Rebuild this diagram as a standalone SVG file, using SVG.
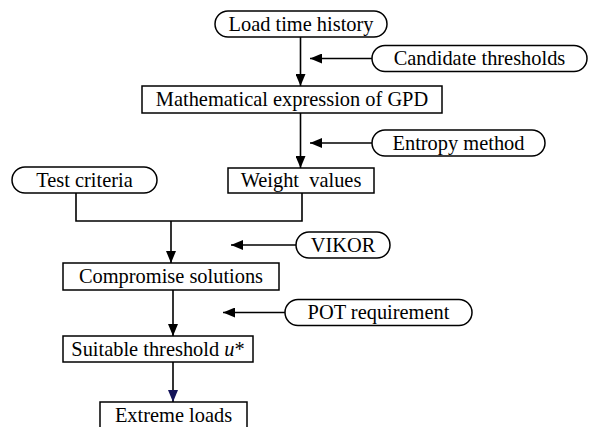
<svg xmlns="http://www.w3.org/2000/svg" width="591" height="427" viewBox="0 0 591 427">
  <style>
    .box { fill: #ffffff; stroke: #000000; stroke-width: 1.5; }
    .lbl { font-family: "Liberation Serif", "Times New Roman", serif; font-size: 20.4px; fill: #000000; text-anchor: middle; white-space: pre; }
    .wire { fill: none; stroke: #000000; stroke-width: 1.6; }
    .arr { marker-end: url(#head); }
  </style>
  <defs>
    <marker id="head" markerUnits="userSpaceOnUse" markerWidth="12" markerHeight="10" refX="12" refY="5" orient="auto">
      <path d="M0,0 L12,5 L0,10 Z" fill="#000000"/>
    </marker>
    <marker id="headBlue" markerUnits="userSpaceOnUse" markerWidth="12" markerHeight="10" refX="12" refY="5" orient="auto">
      <path d="M0,0 L12,5 L0,10 Z" fill="#14145a"/>
    </marker>
  </defs>

  <rect width="591" height="427" fill="#ffffff"/>

  <!-- connectors -->
  <g id="connectors">
    <line class="wire arr" x1="300.5" y1="36" x2="300.5" y2="86"/>
    <line class="wire arr" x1="372" y1="58.5" x2="310" y2="58.5"/>
    <line class="wire arr" x1="300.5" y1="113" x2="300.5" y2="168"/>
    <line class="wire arr" x1="372" y1="143" x2="310" y2="143"/>
    <polyline class="wire" points="76,193 76,221 302,221 302,193"/>
    <line class="wire arr" x1="171" y1="221" x2="171" y2="263"/>
    <line class="wire arr" x1="296" y1="245" x2="231" y2="245"/>
    <line class="wire arr" x1="173" y1="290" x2="173" y2="336"/>
    <line class="wire arr" x1="285" y1="312.5" x2="223" y2="312.5"/>
    <line class="wire" x1="173" y1="362" x2="173" y2="402" marker-end="url(#headBlue)"/>
  </g>

  <g id="load-time-history">
    <rect class="box" x="215" y="11" width="172" height="26" rx="13"/>
    <text class="lbl" x="301" y="30.5">Load time history</text>
  </g>

  <g id="candidate-thresholds">
    <rect class="box" x="372" y="45.5" width="215" height="26" rx="13"/>
    <text class="lbl" x="479.5" y="65">Candidate thresholds</text>
  </g>

  <g id="gpd-expression">
    <rect class="box" x="142" y="86" width="300" height="27"/>
    <text class="lbl" x="292" y="105.5">Mathematical expression of GPD</text>
  </g>

  <g id="entropy-method">
    <rect class="box" x="372" y="130" width="173" height="26" rx="13"/>
    <text class="lbl" x="458.5" y="149.5">Entropy method</text>
  </g>

  <g id="test-criteria">
    <rect class="box" x="12" y="167" width="145" height="26" rx="13"/>
    <text class="lbl" x="84.5" y="186.5">Test criteria</text>
  </g>

  <g id="weight-values">
    <rect class="box" x="228" y="168" width="146" height="25"/>
    <text class="lbl" x="301" y="187" xml:space="preserve">Weight  values</text>
  </g>

  <g id="vikor">
    <rect class="box" x="296" y="232" width="94" height="26" rx="13"/>
    <text class="lbl" x="343" y="251.5">VIKOR</text>
  </g>

  <g id="compromise-solutions">
    <rect class="box" x="63" y="263" width="216" height="27"/>
    <text class="lbl" x="171" y="282.5">Compromise solutions</text>
  </g>

  <g id="pot-requirement">
    <rect class="box" x="285" y="299.5" width="187" height="26" rx="13"/>
    <text class="lbl" x="378.5" y="319">POT requirement</text>
  </g>

  <g id="suitable-threshold">
    <rect class="box" x="63" y="336" width="190" height="26"/>
    <text class="lbl" x="158" y="355.5">Suitable threshold <tspan font-style="italic">u</tspan>*</text>
  </g>

  <g id="extreme-loads">
    <rect class="box" x="100" y="402" width="147" height="34"/>
    <text class="lbl" x="173.5" y="421.5">Extreme loads</text>
  </g>
</svg>
